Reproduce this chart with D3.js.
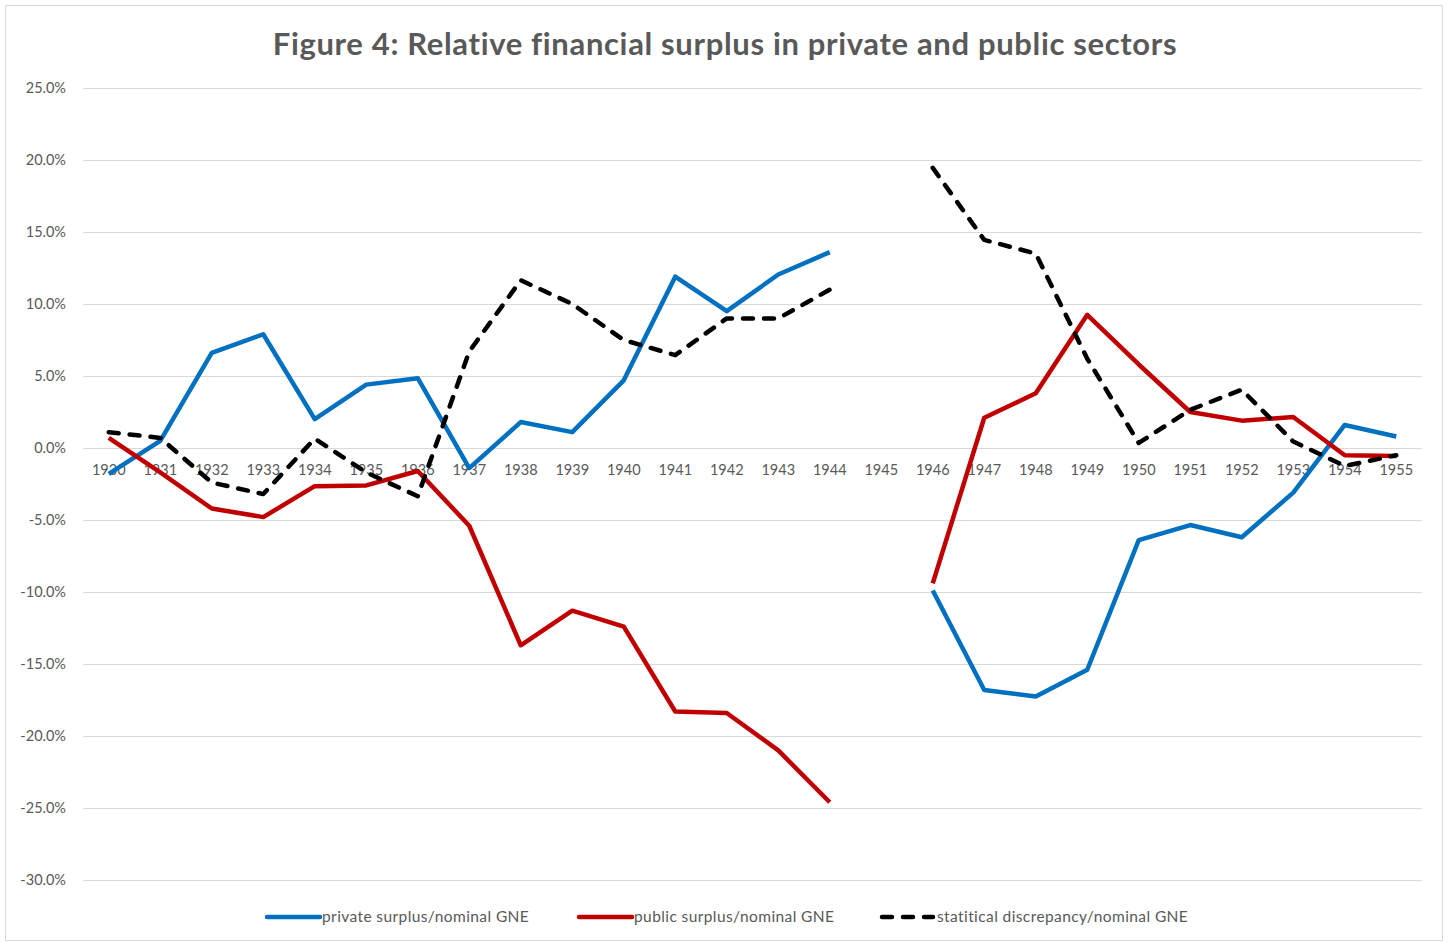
<!DOCTYPE html>
<html>
<head>
<meta charset="utf-8">
<script src="https://cdn.jsdelivr.net/npm/d3@7"></script>
<style>
html,body{margin:0;padding:0;background:#fff;}
svg{display:block;}
text{font-family:Lato,"Open Sans",sans-serif;}
</style>
</head>
<body>
<svg id="chart" width="1450" height="942"></svg>
<script>
const years = ["1930","1931","1932","1933","1934","1935","1936","1937","1938","1939","1940","1941","1942","1943","1944","1945","1946","1947","1948","1949","1950","1951","1952","1953","1954","1955"];
const privateSurplus = [-1.8,0.5,6.6,7.9,2.0,4.4,4.85,-1.4,1.8,1.1,4.7,11.9,9.5,12.05,13.6,null,-9.9,-16.8,-17.25,-15.4,-6.4,-5.35,-6.2,-3.1,1.6,0.8];
const publicSurplus = [0.7,-1.7,-4.2,-4.8,-2.65,-2.6,-1.6,-5.4,-13.7,-11.3,-12.4,-18.3,-18.4,-21.0,-24.6,null,-9.4,2.1,3.8,9.25,5.8,2.5,1.9,2.15,-0.5,-0.55];
const discrepancy = [1.1,0.7,-2.4,-3.2,0.65,-1.7,-3.35,6.7,11.65,10.0,7.5,6.45,9.0,9.0,11.0,null,19.45,14.45,13.5,6.2,0.35,2.65,4.05,0.45,-1.25,-0.5];
const yTicks = [25,20,15,10,5,0,-5,-10,-15,-20,-25,-30];
const seriesNames = ["private surplus/nominal GNE","public surplus/nominal GNE","statitical discrepancy/nominal GNE"];
const title = "Figure 4: Relative financial surplus in private and public sectors";

const svg = d3.select("#chart");
const textColor = "#595959";
const gridColor = "#d9d9d9";

// chart border
svg.append("rect").attr("x",5.5).attr("y",5.5).attr("width",1437).attr("height",935)
  .attr("fill","#fff").attr("stroke","#d9d9d9").attr("stroke-width",1);

const plot = {left:83, right:1422, top:88, bottom:880};
const x = d3.scaleBand().domain(years).range([plot.left, plot.right]).padding(0);
const y = d3.scaleLinear().domain([-30,25]).range([plot.bottom, plot.top]);
const xc = d => x(d) + x.bandwidth()/2;

// title
svg.append("text").attr("x",725).attr("y",55).attr("text-anchor","middle")
  .attr("font-size",31).attr("font-weight","bold").attr("fill",textColor)
  .attr("letter-spacing",0.65).text(title);

// gridlines + y labels
const yAxis = d3.axisLeft(y).tickValues(yTicks).tickSize(-(plot.right-plot.left)).tickPadding(17)
  .tickFormat(d => d.toFixed(1) + "%");
const gy = svg.append("g").attr("transform",`translate(${plot.left},0)`).call(yAxis);
gy.select(".domain").remove();
gy.selectAll(".tick line").attr("stroke",gridColor).attr("stroke-width",1.2);
gy.selectAll(".tick text").attr("fill",textColor).attr("font-size",14.5).attr("font-family","Lato,'Open Sans',sans-serif");

// x labels along zero line
const xAxis = d3.axisBottom(x).tickSize(0).tickPadding(17);
const gx = svg.append("g").attr("transform",`translate(0,${y(0)})`).call(xAxis);
gx.select(".domain").remove();
gx.selectAll(".tick text").attr("fill",textColor).attr("font-size",14.5).attr("font-family","Lato,'Open Sans',sans-serif");

// lines
const lineGen = d3.line().defined(d => d.v !== null).x(d => xc(d.k)).y(d => y(d.v));
const series = [
  {name:seriesNames[0], values:privateSurplus, color:"#0070C0", dash:null},
  {name:seriesNames[1], values:publicSurplus, color:"#C00000", dash:null},
  {name:seriesNames[2], values:discrepancy, color:"#000000", dash:"10 11"}
];
series.forEach(s => {
  const data = years.map((k,i) => ({k:k, v:s.values[i]}));
  svg.append("path").datum(data).attr("d",lineGen)
    .attr("fill","none").attr("stroke",s.color).attr("stroke-width",4.5)
    .attr("stroke-linejoin","round").attr("stroke-linecap", s.dash ? "round" : "butt")
    .attr("stroke-dasharray", s.dash);
});

// legend
const legendX = [265, 577, 880];
series.forEach((s,i) => {
  const g = svg.append("g").attr("transform",`translate(${legendX[i]},917)`);
  g.append("line").attr("x1",2).attr("x2",s.dash ? 53 : 55).attr("y1",0).attr("y2",0)
    .attr("stroke",s.color).attr("stroke-width",4.5)
    .attr("stroke-linecap", "round").attr("stroke-dasharray", s.dash);
  g.append("text").attr("x",57).attr("y",5).attr("font-size",15.5).attr("fill",textColor)
    .attr("letter-spacing",0.4).text(s.name);
});
</script>
</body>
</html>
